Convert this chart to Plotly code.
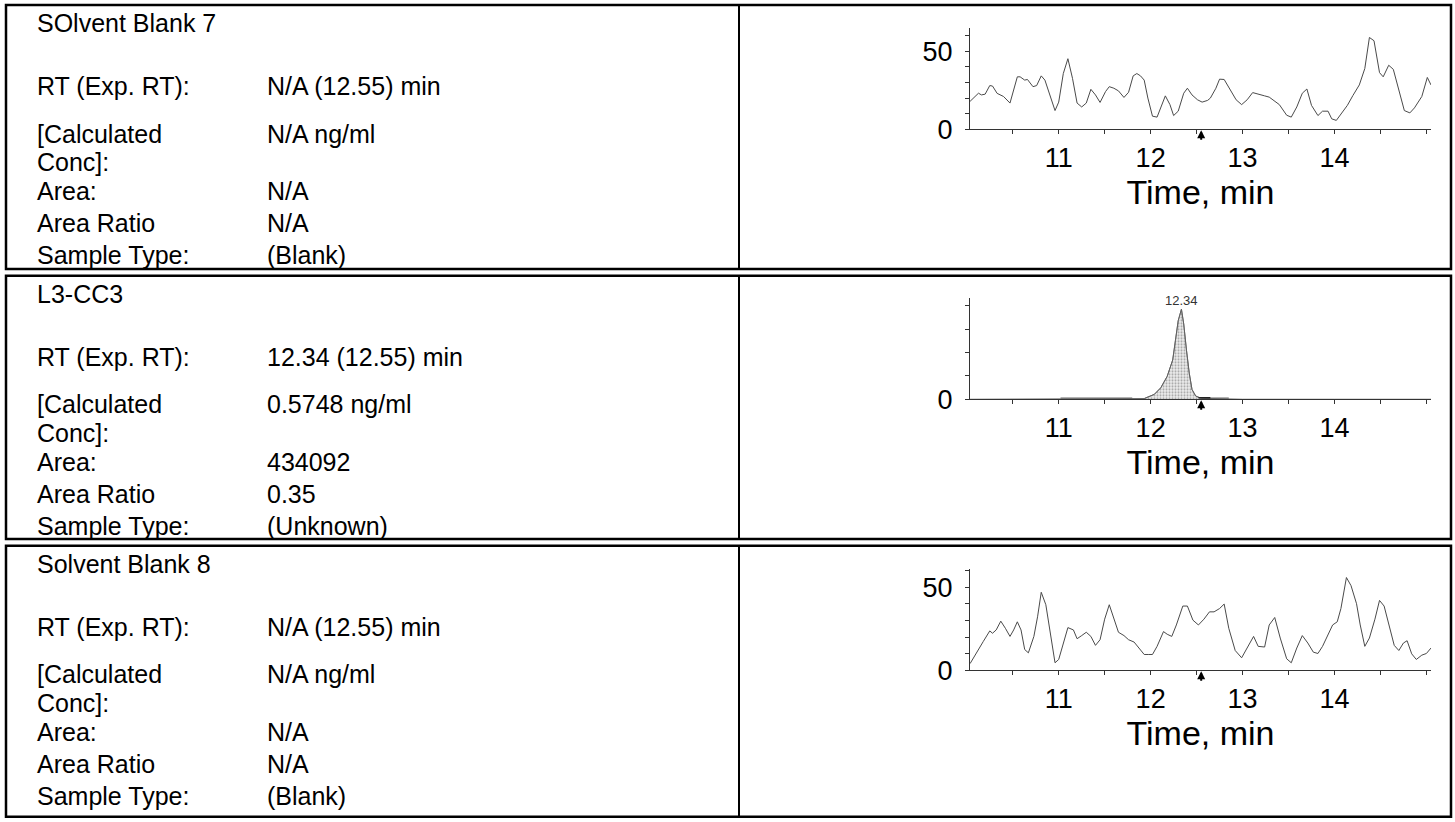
import plotly.graph_objects as go

W, H = 1455, 822

# ---------------- text data ----------------
sample_names = ["SOlvent Blank 7", "L3-CC3", "Solvent Blank 8"]
field_labels = ["RT (Exp. RT):", "[Calculated", "Conc]:", "Area:", "Area Ratio", "Sample Type:"]
rt_values = ["N/A (12.55) min", "12.34 (12.55) min", "N/A (12.55) min"]
conc_values = ["N/A ng/ml", "0.5748 ng/ml", "N/A ng/ml"]
area_values = ["N/A", "434092", "N/A"]
ratio_values = ["N/A", "0.35", "N/A"]
type_values = ["(Blank)", "(Unknown)", "(Blank)"]

x_tick_vals = [10.5, 11, 11.5, 12, 12.5, 13, 13.5, 14, 14.5, 15]
x_tick_text = ["", "11", "", "12", "", "13", "", "14", "", ""]
expected_rt = 12.55
found_rt = 12.34

# ---------------- chromatogram 1 (SOlvent Blank 7) ----------------
t1 = [10.036, 10.127, 10.16, 10.2, 10.25, 10.28, 10.33, 10.4, 10.47, 10.5, 10.55, 10.58,
      10.63, 10.66, 10.72, 10.76, 10.81, 10.85, 10.91, 10.96, 11.0, 11.05, 11.1, 11.15,
      11.2, 11.25, 11.3, 11.35, 11.4, 11.45, 11.51, 11.55, 11.6, 11.65, 11.71, 11.76,
      11.81, 11.85, 11.89, 11.93, 11.97, 12.02, 12.07, 12.12, 12.16, 12.21, 12.25, 12.3,
      12.36, 12.4, 12.45, 12.51, 12.56, 12.62, 12.65, 12.71, 12.75, 12.8, 12.84, 12.89,
      12.93, 12.99, 13.05, 13.11, 13.16, 13.24, 13.29, 13.35, 13.4, 13.48, 13.53, 13.59,
      13.65, 13.7, 13.75, 13.82, 13.87, 13.93, 13.97, 14.02, 14.07, 14.14, 14.2, 14.27,
      14.33, 14.38, 14.43, 14.49, 14.53, 14.59, 14.64, 14.7, 14.76, 14.82, 14.87, 14.95,
      15.01, 15.05]
v1 = [17.9, 23.1, 22, 22.5, 28, 27.7, 23, 21, 16.8, 23, 33.6, 33.6,
      31.5, 31.9, 27.3, 28, 34.2, 31.5, 20, 12, 17.4, 35.7, 45.2, 32.6,
      16.8, 14.3, 16.8, 25.6, 22, 17.2, 24.2, 27.3, 26.3, 24.6, 20.4, 23.7,
      34.2, 35.7, 34.2, 31.5, 20, 8.4, 7.8, 15.8, 21.4, 15.8, 8.8, 11.6,
      23.1, 26.3, 22, 18.9, 17.4, 18.5, 20, 26.3, 32.1, 31.9, 28, 23.1,
      18.9, 15.8, 18.9, 23.5, 22.5, 21.4, 20.6, 17.9, 15.8, 9, 7.8, 14.3,
      23.1, 25.8, 15.3, 8.8, 11.6, 11.6, 6.7, 5.7, 9.5, 15.3, 21.6, 28.4,
      38.9, 58.8, 56.7, 36.3, 33.6, 41, 38.4, 24.2, 12, 10.5, 13.7, 21,
      33.2, 28.4]

# ---------------- chromatogram 2 (L3-CC3), intensity in cps ----------------
t2 = [10.035, 11.0, 11.93, 12.04, 12.11, 12.18, 12.24, 12.27, 12.30, 12.335,
      12.36, 12.39, 12.42, 12.45, 12.49, 12.55, 13.0, 14.0, 15.05]
v2 = [0, 0, 600, 4200, 9800, 19600, 33600, 50400, 67200, 77000,
      64400, 42000, 22400, 8400, 2800, 800, 0, 0, 0]
peak_t = [11.93, 12.04, 12.11, 12.18, 12.24, 12.27, 12.30, 12.335,
          12.36, 12.39, 12.42, 12.45, 12.49, 12.55]
peak_v = [600, 4200, 9800, 19600, 33600, 50400, 67200, 77000,
          64400, 42000, 22400, 8400, 2800, 800]
base_seg1_t = [11.02, 11.80]
base_seg1_v = [500, 500]
base_seg2_t = [12.31, 12.85]
base_seg2_v = [500, 500]
base_seg3_t = [12.52, 12.65]
base_seg3_v = [1400, 1400]

# ---------------- chromatogram 3 (Solvent Blank 8) ----------------
t3 = [10.036, 10.11, 10.18, 10.25, 10.28, 10.32, 10.37, 10.42, 10.47, 10.51, 10.55, 10.59,
      10.63, 10.67, 10.73, 10.77, 10.81, 10.86, 10.91, 10.96, 11.0, 11.05, 11.1, 11.16,
      11.2, 11.25, 11.3, 11.35, 11.4, 11.45, 11.5, 11.55, 11.6, 11.65, 11.71, 11.76,
      11.82, 11.87, 11.93, 11.98, 12.02, 12.07, 12.14, 12.18, 12.23, 12.28, 12.35, 12.4,
      12.46, 12.52, 12.58, 12.64, 12.69, 12.75, 12.8, 12.85, 12.92, 12.99, 13.05, 13.12,
      13.17, 13.24, 13.29, 13.35, 13.41, 13.48, 13.53, 13.59, 13.65, 13.71, 13.77, 13.82,
      13.87, 13.93, 13.98, 14.03, 14.07, 14.13, 14.18, 14.24, 14.28, 14.33, 14.38, 14.44,
      14.49, 14.54, 14.6, 14.65, 14.7, 14.75, 14.79, 14.84, 14.89, 14.95, 15.0, 15.05]
v3 = [4, 10.5, 17.4, 23.7, 22.3, 24.3, 29.6, 25.3, 20.4, 24.3, 29.2, 24.3,
      12.5, 10.5, 20.4, 32.2, 47, 39.5, 21.3, 4.5, 6.5, 16.4, 25.7, 24.3,
      19, 20.9, 22.9, 20.4, 15, 18.4, 30.8, 39.5, 31.2, 22.9, 20.9, 18.4,
      17, 13.4, 9.5, 9.5, 9.5, 14.4, 23.3, 21.7, 20.4, 27.3, 38.7, 38.7,
      30.2, 27.3, 30.8, 35.2, 35.2, 37.2, 39.9, 25.3, 11.9, 7.5, 13.8, 20.4,
      14.4, 14, 27.3, 31.8, 19.4, 6.9, 4.5, 13.4, 20.9, 16.4, 10.9, 10.1,
      14.4, 21.3, 27.3, 29.2, 37.2, 55.9, 51, 40.1, 27.3, 14.4, 19.4, 30.8,
      42.1, 38.7, 25.3, 15, 11.9, 16.4, 17.8, 9.9, 6.5, 9.1, 10.1, 13.4]

# ---------------- layout helpers ----------------
FONT = "Liberation Sans, Arial, sans-serif"


def px_x(x):
    return x / W


def px_y(y):
    return 1 - y / H


row_tops = [5, 281, 556]
row_bottoms = [274, 549, 832]
left_x, right_x, col_x = 6, 1451, 739
label_x, value_x = 35, 265
line_offsets = {"title": 18, "rt": 83, "calc": 131, "conc": 160, "area": 190, "ratio": 222, "type": 255}

fig = go.Figure()

shapes = []
annotations = []
for i in range(3):
    top, bot = row_tops[i], row_bottoms[i]
    shapes.append(dict(type="rect", xref="paper", yref="paper",
                       x0=px_x(left_x), x1=px_x(right_x), y0=px_y(bot), y1=px_y(top),
                       line=dict(color="black", width=2.5), fillcolor="rgba(0,0,0,0)"))
    shapes.append(dict(type="line", xref="paper", yref="paper",
                       x0=px_x(col_x), x1=px_x(col_x), y0=px_y(bot), y1=px_y(top),
                       line=dict(color="black", width=2)))

    def txt(x, y, s):
        annotations.append(dict(xref="paper", yref="paper", x=px_x(x), y=px_y(y), text=s,
                                showarrow=False, xanchor="left", yanchor="middle",
                                font=dict(family=FONT, size=25, color="black")))

    txt(label_x, top + line_offsets["title"], sample_names[i])
    txt(label_x, top + line_offsets["rt"], field_labels[0])
    txt(label_x, top + line_offsets["calc"], field_labels[1])
    txt(label_x, top + line_offsets["conc"], field_labels[2])
    txt(label_x, top + line_offsets["area"], field_labels[3])
    txt(label_x, top + line_offsets["ratio"], field_labels[4])
    txt(label_x, top + line_offsets["type"], field_labels[5])
    txt(value_x, top + line_offsets["rt"], rt_values[i])
    txt(value_x, top + line_offsets["calc"], conc_values[i])
    txt(value_x, top + line_offsets["area"], area_values[i])
    txt(value_x, top + line_offsets["ratio"], ratio_values[i])
    txt(value_x, top + line_offsets["type"], type_values[i])

# traces
trace_line = dict(color="#4a4a4a", width=1)
fig.add_trace(go.Scatter(x=t1, y=v1, mode="lines", line=trace_line, xaxis="x", yaxis="y"))
fig.add_trace(go.Scatter(x=base_seg1_t, y=base_seg1_v, mode="lines", line=dict(color="#9a9a9a", width=3), xaxis="x2", yaxis="y2"))
fig.add_trace(go.Scatter(x=base_seg2_t, y=base_seg2_v, mode="lines", line=dict(color="#9a9a9a", width=3), xaxis="x2", yaxis="y2"))
fig.add_trace(go.Scatter(x=peak_t, y=peak_v, mode="lines", fill="tozeroy",
                         fillpattern=dict(shape=".", fgcolor="#555", bgcolor="#eeeeee", size=3, solidity=0.4),
                         line=dict(color="#808080", width=1), xaxis="x2", yaxis="y2"))
fig.add_trace(go.Scatter(x=t2, y=v2, mode="lines", line=dict(color="#606060", width=1), xaxis="x2", yaxis="y2"))
fig.add_trace(go.Scatter(x=base_seg3_t, y=base_seg3_v, mode="lines", line=dict(color="#222", width=1.5), xaxis="x2", yaxis="y2"))
fig.add_trace(go.Scatter(x=t3, y=v3, mode="lines", line=trace_line, xaxis="x3", yaxis="y3"))

x_dom = [px_x(970), px_x(1431)]
chart_boxes = [(28.3, 131.7), (303.3, 406.7), (579.3, 682.7)]
y_ranges = [[0, 65], [0, 86800], [0, 61.2]]
y_ticks = [[0, 10, 20, 30, 40, 50, 60], [0, 20000, 40000, 60000, 80000], [0, 10, 20, 30, 40, 50, 60]]
y_ticktext = [["0", "", "", "", "", "50", ""], ["0", "", "", "", ""], ["0", "", "", "", "", "50", ""]]

layout_axes = {}
for i in range(3):
    sfx = "" if i == 0 else str(i + 1)
    top, bot = chart_boxes[i]
    layout_axes["xaxis" + sfx] = dict(
        domain=x_dom, anchor="y" + sfx, range=[10.035, 15.05],
        showline=True, linecolor="#333", linewidth=1, ticks="outside", ticklen=4, tickwidth=1,
        tickcolor="#333", tickvals=x_tick_vals, ticktext=x_tick_text, showgrid=False, zeroline=False,
        tickfont=dict(family=FONT, size=27, color="black"),
        title=dict(text="Time, min", font=dict(family=FONT, size=34, color="black"), standoff=7),
        fixedrange=True)
    layout_axes["yaxis" + sfx] = dict(
        domain=[px_y(bot), px_y(top)], anchor="x" + sfx, range=y_ranges[i],
        showline=True, linecolor="#333", linewidth=1, ticks="outside", ticklen=4, tickwidth=1,
        tickcolor="#333", tickvals=y_ticks[i], ticktext=y_ticktext[i], showgrid=False, zeroline=False,
        tickfont=dict(family=FONT, size=27, color="black"), ticklabelstandoff=7, fixedrange=True)

# peak label and expected-RT arrows
annotations.append(dict(xref="x2", yref="y2", x=found_rt, y=max(v2), text=f"{found_rt:.2f}",
                        showarrow=False, yanchor="bottom", yshift=-1,
                        font=dict(family=FONT, size=13, color="#333")))
for i in range(3):
    sfx = "" if i == 0 else str(i + 1)
    annotations.append(dict(xref="x" + sfx, yref="y" + sfx, x=expected_rt, y=0, text="",
                            showarrow=True, ax=0, ay=12, arrowhead=2, arrowsize=0.8,
                            arrowwidth=2, arrowcolor="black", standoff=1))

fig.update_layout(
    width=W, height=H, autosize=False,
    margin=dict(l=0, r=0, t=0, b=0),
    paper_bgcolor="white", plot_bgcolor="white",
    showlegend=False, shapes=shapes, annotations=annotations,
    font=dict(family=FONT, color="black"),
    **layout_axes,
)

fig.write_html("out.html", config={"displayModeBar": False, "staticPlot": True},
               post_script="document.body.style.margin='0';document.body.style.overflow='hidden';")
